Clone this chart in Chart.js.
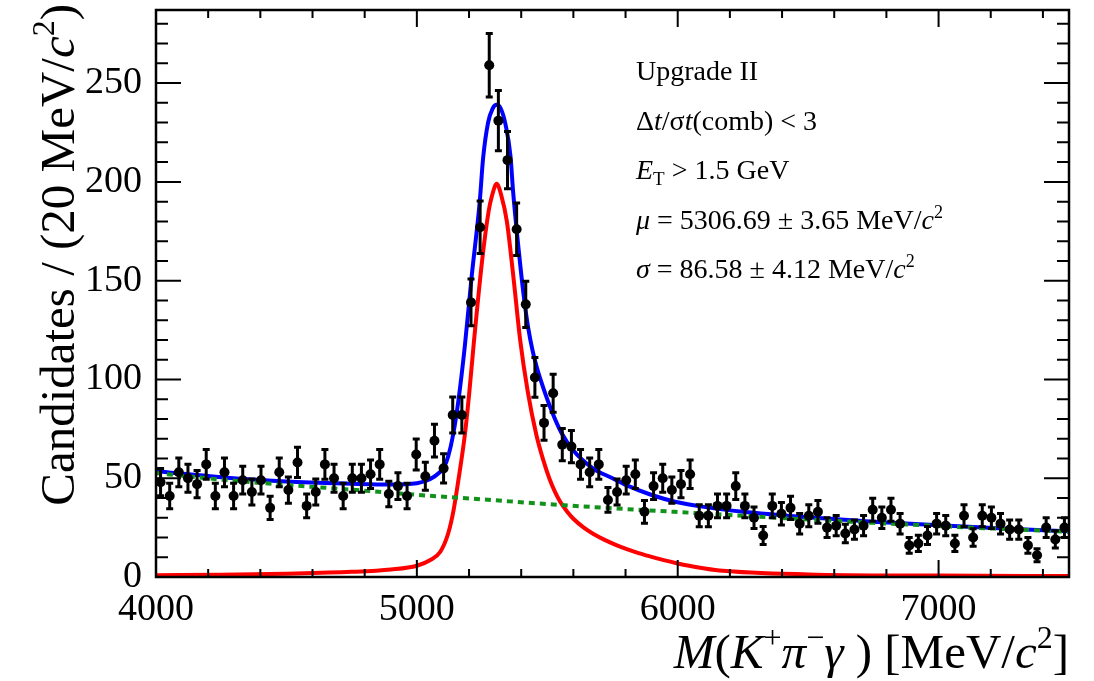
<!DOCTYPE html>
<html>
<head>
<meta charset="utf-8">
<script src="https://cdn.jsdelivr.net/npm/chart.js@4.4.1/dist/chart.umd.min.js"></script>
<style>
  html, body { margin: 0; padding: 0; background: #fff; }
</style>
</head>
<body>
<canvas id="massChart" width="1094" height="681"></canvas>
<script>
// bin centres of the 35 MeV bins and the counts in each
const binCenters = [
  4017.5, 4052.5, 4087.5, 4122.5, 4157.5, 4192.5, 4227.5, 4262.5, 4297.5, 4332.5,
  4367.5, 4402.5, 4437.5, 4472.5, 4507.5, 4542.5, 4577.5, 4612.5, 4647.5, 4682.5,
  4717.5, 4752.5, 4787.5, 4822.5, 4857.5, 4892.5, 4927.5, 4962.5, 4997.5, 5032.5,
  5067.5, 5102.5, 5137.5, 5172.5, 5207.5, 5242.5, 5277.5, 5312.5, 5347.5, 5382.5,
  5417.5, 5452.5, 5487.5, 5522.5, 5557.5, 5592.5, 5627.5, 5662.5, 5697.5, 5732.5,
  5767.5, 5802.5, 5837.5, 5872.5, 5907.5, 5942.5, 5977.5, 6012.5, 6047.5, 6082.5,
  6117.5, 6152.5, 6187.5, 6222.5, 6257.5, 6292.5, 6327.5, 6362.5, 6397.5, 6432.5,
  6467.5, 6502.5, 6537.5, 6572.5, 6607.5, 6642.5, 6677.5, 6712.5, 6747.5, 6782.5,
  6817.5, 6852.5, 6887.5, 6922.5, 6957.5, 6992.5, 7027.5, 7062.5, 7097.5, 7132.5,
  7167.5, 7202.5, 7237.5, 7272.5, 7307.5, 7342.5, 7377.5, 7412.5, 7447.5, 7482.5
];
const counts = [
  48, 41, 53, 50, 47, 57, 41, 53, 41, 49,
  43, 49, 35, 53, 44, 58, 36, 43, 57, 50,
  41, 50, 50, 52, 57, 42, 46, 41, 62, 51,
  69, 55, 82, 82, 139, 177, 259, 231, 211, 176,
  138, 101, 78, 93, 67, 66, 57, 53, 57, 39,
  43, 49, 52, 33, 46, 50, 44, 47, 52, 31,
  31, 36, 36, 46, 36, 30, 21, 36, 32, 35,
  27, 31, 33, 25, 26, 22, 24, 26, 34, 30,
  34, 27, 16, 17, 21, 27, 26, 17, 31, 20,
  31, 30, 27, 24, 24, 16, 11, 25, 19, 25
];

const xTickValues = [4000, 5000, 6000, 7000];
const yTickValues = [0, 50, 100, 150, 200, 250];

// total fit (blue)
const totalX = [4000, 4250, 4500, 4750, 4900, 5000, 5050, 5090, 5104, 5120, 5139, 5160, 5184, 5210,
  5241, 5254, 5273, 5290, 5306, 5322, 5340, 5359, 5369, 5390, 5410, 5427, 5443, 5460, 5484, 5520,
  5554, 5600, 5675, 5750, 5803, 5900, 5994, 6100, 6250, 6500, 6750, 7000, 7250, 7500];
const totalY = [53.5, 50.5, 48.3, 47.2, 46.8, 47.5, 49.5, 53.3, 55.5, 61, 72, 90, 117, 152,
  190, 212, 230, 237, 239, 237, 229, 213, 195, 166, 142, 126, 115, 106, 96, 83,
  73, 64, 55, 50, 46.5, 41.5, 38, 35.5, 33, 30.2, 28, 26.2, 24.6, 23.1];

// signal (red)
const signalX = [4000, 4250, 4500, 4750, 4900, 5000, 5050, 5090, 5120, 5141, 5158, 5184, 5200, 5218,
  5250, 5275, 5288, 5306, 5324, 5345, 5370, 5396, 5425, 5458, 5485, 5509, 5530, 5550, 5575, 5600,
  5640, 5677, 5720, 5760, 5805, 5850, 5900, 5950, 5996, 6080, 6160, 6500, 7000, 7500];
const signalY = [0.9, 1.2, 1.7, 2.6, 3.8, 5.7, 8.5, 12.8, 22, 34, 48, 72, 92, 118,
  160, 185, 193, 199, 193, 180, 152, 120, 94, 72, 59, 49.5, 43, 38, 33.3, 29.5,
  25, 21.8, 18.8, 16.4, 14.1, 12.1, 10.2, 8.4, 7, 4.8, 3.3, 1.3, 0.7, 0.5];

// combinatorial background (green dashed)
const bkgX = [4000, 4250, 4500, 4750, 5000, 5250, 5500, 5750, 6000, 6250, 6500, 6750, 7000, 7250, 7500];
const bkgY = [52.6, 49.3, 46.6, 44.2, 41.6, 39.3, 36.9, 34.8, 32.9, 31.0, 29.1, 27.4, 25.8, 24.3, 22.9];

const SERIF = '"Liberation Serif", "Times New Roman", serif';
const f = (size, italic) => (italic ? 'italic ' : '') + size + 'px ' + SERIF;

function toXY(xs, ys) {
  return xs.map((x, i) => ({ x: x, y: ys[i] }));
}

// draw a row of text pieces with their own fonts and offsets
function drawRuns(ctx, x, y, runs, align) {
  let total = 0;
  runs.forEach(r => { ctx.font = r[1]; total += ctx.measureText(r[0]).width; });
  let cx = align === 'right' ? x - total : x;
  ctx.textAlign = 'left';
  ctx.textBaseline = 'alphabetic';
  runs.forEach(r => {
    ctx.font = r[1];
    ctx.fillText(r[0], cx, y + (r[2] || 0));
    cx += ctx.measureText(r[0]).width;
  });
}

const errorBars = {
  id: 'errorBars',
  afterDatasetsDraw(chart) {
    const { ctx, chartArea, scales } = chart;
    ctx.save();
    ctx.beginPath();
    ctx.rect(chartArea.left, chartArea.top, chartArea.width, chartArea.height);
    ctx.clip();
    ctx.strokeStyle = '#000';
    ctx.lineWidth = 3;
    binCenters.forEach((m, i) => {
      const err = Math.sqrt(counts[i]);
      const px = scales.x.getPixelForValue(m);
      const top = scales.y.getPixelForValue(counts[i] + err);
      const bot = scales.y.getPixelForValue(counts[i] - err);
      ctx.beginPath();
      ctx.moveTo(px, top); ctx.lineTo(px, bot);
      ctx.moveTo(px - 3.5, top); ctx.lineTo(px + 3.5, top);
      ctx.moveTo(px - 3.5, bot); ctx.lineTo(px + 3.5, bot);
      ctx.stroke();
    });
    ctx.restore();
  }
};

const frameAndText = {
  id: 'frameAndText',
  afterDraw(chart) {
    const { ctx, chartArea: a, scales } = chart;
    ctx.save();
    ctx.strokeStyle = '#000';
    ctx.fillStyle = '#000';
    ctx.lineWidth = 2.5;
    ctx.strokeRect(a.left, a.top, a.right - a.left, a.bottom - a.top);

    // inward ticks on all four sides
    ctx.lineWidth = 2;
    ctx.beginPath();
    for (let v = 10; v < 287; v += 10) {
      const py = scales.y.getPixelForValue(v);
      const len = v % 50 === 0 ? 25 : 12;
      ctx.moveTo(a.left, py); ctx.lineTo(a.left + len, py);
      ctx.moveTo(a.right, py); ctx.lineTo(a.right - len, py);
    }
    for (let m = 4200; m < 7500; m += 200) {
      const px = scales.x.getPixelForValue(m);
      const len = m % 1000 === 0 ? 17 : 8;
      ctx.moveTo(px, a.bottom); ctx.lineTo(px, a.bottom - len);
      ctx.moveTo(px, a.top); ctx.lineTo(px, a.top + len);
    }
    ctx.stroke();

    // fit information
    const tx = 636;
    drawRuns(ctx, tx, 80, [['Upgrade II', f(28)]]);
    drawRuns(ctx, tx, 130, [['\u0394', f(28)], ['t', f(28, true)], ['/', f(28)], ['\u03c3', f(28)],
      ['t', f(28, true)], ['(comb) < 3', f(28)]]);
    drawRuns(ctx, tx, 179, [['E', f(28, true)], ['T', f(19), 6], [' > 1.5 GeV', f(28)]]);
    drawRuns(ctx, tx, 229, [['\u03bc', f(28, true)], [' = 5306.69 \u00b1 3.65 MeV/', f(28)],
      ['c', f(28, true)], ['2', f(18), -11]]);
    drawRuns(ctx, tx, 278, [['\u03c3', f(28, true)], [' = 86.58 \u00b1 4.12 MeV/', f(28)],
      ['c', f(28, true)], ['2', f(18), -11]]);

    // x axis title
    drawRuns(ctx, a.right, 668, [['M', f(49, true)], ['(', f(49)], ['K', f(49, true)],
      ['+', f(32), -20], ['\u03c0', f(49, true)], ['\u2212', f(32), -20], ['\u03b3', f(49, true)],
      [' )', f(49)], [' [MeV/', f(49)], ['c', f(49, true)], ['2', f(32), -20], [']', f(49)]], 'right');

    // y axis title
    ctx.translate(74, 4);
    ctx.rotate(-Math.PI / 2);
    drawRuns(ctx, 0, 0, [['Candidates / (20 MeV/', f(49)], ['c', f(49, true)], ['2', f(32), -20],
      [')', f(49)]], 'right');
    ctx.restore();
  }
};

const ctx = document.getElementById('massChart');

new Chart(ctx, {
  type: 'scatter',
  data: {
    datasets: [
      {
        label: 'Data',
        data: toXY(binCenters, counts),
        pointRadius: 5,
        pointBackgroundColor: '#000',
        pointBorderWidth: 0,
        showLine: false,
        order: 0
      },
      {
        label: 'Combinatorial',
        data: toXY(bkgX, bkgY),
        showLine: true,
        borderColor: '#12921a',
        borderWidth: 4,
        borderDash: [6, 5],
        pointRadius: 0,
        cubicInterpolationMode: 'monotone',
        order: 1
      },
      {
        label: 'Signal',
        data: toXY(signalX, signalY),
        showLine: true,
        borderColor: '#ff0000',
        borderWidth: 4,
        pointRadius: 0,
        cubicInterpolationMode: 'monotone',
        order: 2
      },
      {
        label: 'Total',
        data: toXY(totalX, totalY),
        showLine: true,
        borderColor: '#0000ff',
        borderWidth: 4,
        pointRadius: 0,
        cubicInterpolationMode: 'monotone',
        order: 3
      }
    ]
  },
  options: {
    responsive: false,
    animation: false,
    layout: { padding: { top: 10, right: 25, left: 0, bottom: 0 } },
    plugins: { legend: { display: false }, tooltip: { enabled: false } },
    scales: {
      x: {
        type: 'linear',
        min: 4000,
        max: 7500,
        grid: { display: false, drawTicks: false },
        border: { display: false },
        ticks: {
          autoSkip: false,
          padding: 10,
          color: '#000',
          maxRotation: 0,
          font: { family: SERIF, size: 38 },
          callback: v => String(v)
        },
        afterBuildTicks: s => { s.ticks = xTickValues.map(v => ({ value: v })); },
        afterFit: s => {
          s.height = 104;
          s.paddingLeft = 0; s.paddingRight = 0;
        }
      },
      y: {
        min: 0,
        max: 287,
        grid: { display: false, drawTicks: false },
        border: { display: false },
        ticks: {
          autoSkip: false,
          padding: 14,
          color: '#000',
          font: { family: SERIF, size: 38 },
          callback: v => String(v)
        },
        afterBuildTicks: s => { s.ticks = yTickValues.map(v => ({ value: v })); },
        afterFit: s => {
          s.width = 156;
          s.paddingTop = 0; s.paddingBottom = 0;
        }
      }
    }
  },
  plugins: [errorBars, frameAndText]
});
</script>
</body>
</html>
